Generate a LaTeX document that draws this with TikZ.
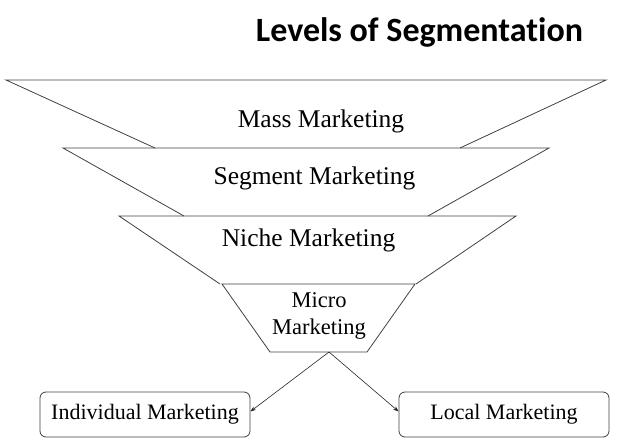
\documentclass[tikz,border=0pt]{standalone}
\usepackage{fontspec}
\setmainfont{Liberation Serif}
\newfontfamily\titlefont[Ligatures=NoCommon]{Carlito}
\usetikzlibrary{arrows.meta}
\tikzset{
  funnel/.style={draw=black!75, line width=0.8pt, line join=miter},
  lbl/.style={inner sep=0pt, anchor=base, font=\fontsize{25.5}{30}\selectfont},
  boxnode/.style={draw=black!75, line width=0.8pt, rounded corners=6pt, minimum width=210pt, minimum height=45pt, inner sep=0pt, font=\fontsize{22}{26}\selectfont},
  conn/.style={draw=black!85, line width=0.6pt, -{Stealth[length=5.5pt,width=4pt]}}
}
\begin{document}
\begin{tikzpicture}[x=1pt,y=-1pt]
\useasboundingbox (0,0) rectangle (640,441);
% title
\node[inner sep=0pt, anchor=base, font=\titlefont\bfseries\fontsize{34}{38}\selectfont] (title) at (419.5,42) {Levels of Segmentation};
% funnel layers
\draw[funnel] (155,148) -- (6,80) -- (606,80) -- (460,148);
\draw[funnel] (184,216) -- (63,148) -- (549,148) -- (428,216);
\draw[funnel] (220,284) -- (119,216) -- (516,216) -- (416,284);
\draw[funnel] (222,284) -- (415,284) -- (367,352) -- (270,352) -- cycle;
% labels
\node[lbl] (mass) at (321,128) {Mass Marketing};
\node[lbl] (segment) at (314.5,185) {Segment Marketing};
\node[lbl] (niche) at (308.5,246) {Niche Marketing};
\node[inner sep=0pt, align=center, font=\fontsize{22.5}{27}\selectfont] (micro) at (319,316) {Micro\\Marketing};
\coordinate (apex) at (329,352);
% boxes
\node[boxnode] (ind) at (145,414.5) {Individual Marketing};
\node[boxnode] (loc) at (504,414.5) {Local Marketing};
% connectors
\draw[conn] (apex) -- ([yshift=3pt]ind.east);
\draw[conn] (apex) -- ([yshift=3pt]loc.west);
\end{tikzpicture}
\end{document}
